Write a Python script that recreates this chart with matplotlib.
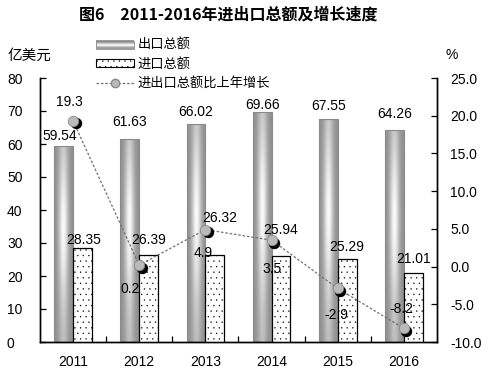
import numpy as np
import matplotlib
matplotlib.use("Agg")
import matplotlib.pyplot as plt
from matplotlib.patches import Rectangle, Patch
from matplotlib.lines import Line2D
from matplotlib.legend_handler import HandlerBase
from matplotlib import transforms

plt.rcParams['font.family'] = ['Liberation Sans', 'Noto Sans CJK SC']
plt.rcParams['hatch.linewidth'] = 0.2

years   = ['2011', '2012', '2013', '2014', '2015', '2016']
exports = [59.54, 61.63, 66.02, 69.66, 67.55, 64.26]
imports = [28.35, 26.39, 26.32, 25.94, 25.29, 21.01]
growth  = [19.3, 0.2, 4.9, 3.5, -2.9, -8.2]
# label offsets in pixels, as they sit in the original
exp_off = [(-4, 2.5), (0, 9.5), (0, 5), (0, 0), (0, 6), (0, 9)]
imp_off = [(1, 1.5), (0, 8), (5, 30), (0, 19), (0, 4.5), (0, 6.5)]
growth_off = [(-4, 19), (-9, -24), (-2, -23), (0, -29), (-1, -27), (-3, 19)]

fig = plt.figure(figsize=(4.96, 3.75), dpi=100)
ax = fig.add_axes([40/496, 1-342/375, 397/496, 264/375])
ax2 = ax.twinx()

x = np.arange(len(years))
w = 0.285

# export bars: gray cylinder look, gradient image clipped to each bar
bars = ax.bar(x - w/2, exports, w, facecolor='none', edgecolor='#8a8a8a', lw=0.8, zorder=3)
tt = np.linspace(0, 1, 60)
ss = np.linspace(0, 1, 120)
hprof = np.exp(-((tt - 0.5) / 0.26) ** 2)
vprof = 0.4 + 0.6 * np.exp(-((ss - 0.58) / 0.36) ** 2)
grad = 0.56 + 0.42 * np.outer(vprof, hprof)
for b in bars:
    x0 = b.get_x()
    im = ax.imshow(grad, extent=[x0, x0 + b.get_width(), 0, b.get_height()],
                   origin='lower', aspect='auto', cmap='gray', vmin=0, vmax=1,
                   interpolation='bilinear', zorder=2)
    im.set_clip_path(b)

# import bars: white with small dots
ax.bar(x + w/2, imports, w, facecolor='white', edgecolor='black', lw=0.9,
       hatch='...', zorder=3)

for i in range(len(years)):
    ax.annotate('%.2f' % exports[i], (x[i] - w/2, exports[i]), xytext=exp_off[i],
                textcoords='offset pixels', ha='center', va='bottom', fontsize=10, zorder=6)
    ax.annotate('%.2f' % imports[i], (x[i] + w/2, imports[i]), xytext=imp_off[i],
                textcoords='offset pixels', ha='center', va='bottom', fontsize=10, zorder=6)

ax.set_xlim(-0.5, 5.5)
ax.set_ylim(0, 80)
ax.set_yticks(range(0, 81, 10))
ax.set_xticks(x)
ax.set_xticklabels(years)
ax.set_xticks(np.arange(0.5, 5, 1), minor=True)
ax.tick_params(axis='x', which='major', length=0, pad=9, labelsize=10)
ax.tick_params(axis='x', which='minor', length=4, direction='in', width=0.9)
ax.tick_params(axis='y', length=4, direction='in', width=0.9, pad=23.8, labelsize=10)
for lab in ax.get_yticklabels():
    lab.set_horizontalalignment('left')

ax2.set_ylim(-10, 25)
ax2.set_yticks(np.arange(-10, 26, 5))
ax2.set_yticklabels(['%.1f' % v for v in np.arange(-10, 26, 5)])
ax2.tick_params(axis='y', length=4, direction='in', width=0.9, pad=9.4, labelsize=10)

for a in (ax, ax2):
    a.spines['top'].set_visible(False)
    for s in ('left', 'right', 'bottom'):
        a.spines[s].set_linewidth(1.0)

# growth line with shadowed markers
ax2.plot(x, growth, ls=(0, (2, 1.5)), color='#707070', lw=0.9, zorder=4)
shadow = transforms.offset_copy(ax2.transData, fig=fig, x=2.5, y=-2.5, units='dots')
ax2.plot(x, growth, 'o', ms=7.2, color='black', transform=shadow, zorder=5)
ax2.plot(x, growth, 'o', ms=7.5, mfc='#bababa', mec='#8a8a8a', mew=0.6, zorder=6)
for i in range(len(years)):
    ax2.annotate('%g' % growth[i], (x[i], growth[i]), xytext=growth_off[i],
                 textcoords='offset pixels', ha='center', va='center', fontsize=10, zorder=7)


class GradHandler(HandlerBase):
    def create_artists(self, legend, orig, xd, yd, width, height, fontsize, trans):
        arts = []
        n = 8
        for k in range(n):
            c = 0.6 + 0.36 * np.exp(-((k + 0.5) / n - 0.5) ** 2 / 0.05)
            arts.append(Rectangle((xd, yd + k * height / n), width, height / n + 0.3,
                                  facecolor=(c, c, c), edgecolor='none', transform=trans))
        arts.append(Rectangle((xd, yd), width, height, facecolor='none',
                              edgecolor='#8a8a8a', lw=0.6, transform=trans))
        return arts


h_exp = Patch(facecolor='#b0b0b0')
h_imp = Patch(facecolor='white', edgecolor='black', hatch='...', lw=0.8)
h_gr = Line2D([], [], ls=(0, (2, 1.5)), color='#707070', lw=0.9, marker='o',
              ms=6, mfc='#bababa', mec='#8a8a8a')
fig.legend([h_exp, h_imp, h_gr], ['出口总额', '进口总额', '进出口总额比上年增长'],
           handler_map={h_exp: GradHandler()}, loc='upper left',
           bbox_to_anchor=(96/496, 1-38/375), frameon=False, fontsize=9.5,
           handlelength=2.9, handleheight=0.55, handletextpad=0.25,
           labelspacing=0.5, borderpad=0, borderaxespad=0)

fig.text(228/496, 1-15/375, '图6　2011-2016年进出口总额及增长速度', ha='center', va='center',
         fontsize=11.5, fontweight='bold', family=['Noto Sans CJK SC', 'DejaVu Sans'])
fig.text(8/496, 1-56/375, '亿美元', ha='left', va='center', fontsize=10.5)
fig.text(445/496, 1-55/375, '%', ha='left', va='center', fontsize=10)

fig.savefig('out.png', dpi=100)
